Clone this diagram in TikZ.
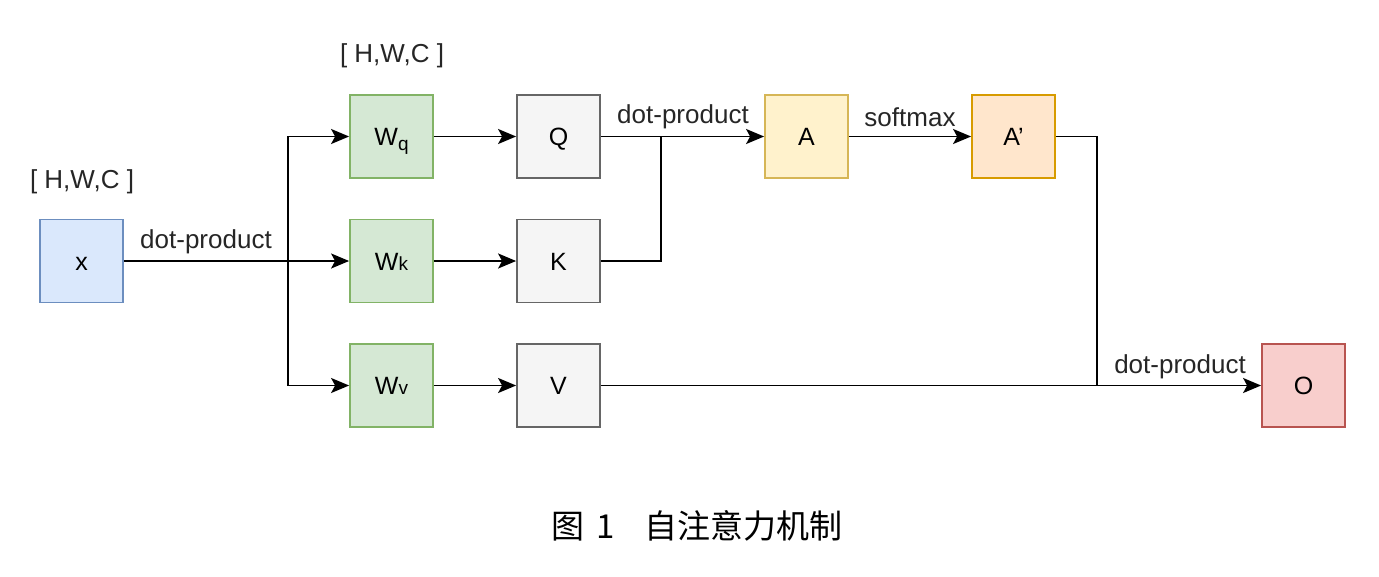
\documentclass[tikz,border=0pt]{standalone}
\usepackage{fontspec}
\setmainfont{Liberation Sans}
\newfontfamily\cjk{Noto Sans CJK SC}
\usetikzlibrary{arrows.meta}
\definecolor{bxf}{HTML}{DAE8FC}\definecolor{bxd}{HTML}{6C8EBF}
\definecolor{gnf}{HTML}{D5E8D4}\definecolor{gnd}{HTML}{82B366}
\definecolor{gyf}{HTML}{F5F5F5}\definecolor{gyd}{HTML}{666666}
\definecolor{ylf}{HTML}{FFF2CC}\definecolor{yld}{HTML}{D6B656}
\definecolor{orf}{HTML}{FFE6CC}\definecolor{ord}{HTML}{D79B00}
\definecolor{rdf}{HTML}{F8CECC}\definecolor{rdd}{HTML}{B85450}
\begin{document}
\begin{tikzpicture}[x=1pt,y=-1pt,
  box/.style={draw, line width=1.8pt, minimum width=83pt, minimum height=83pt, inner sep=0pt, text height=18pt, text depth=0pt, font=\fontsize{25}{29}\selectfont},
  bl/.style={box, fill=bxf, draw=bxd},
  gn/.style={box, fill=gnf, draw=gnd},
  gy/.style={box, fill=gyf, draw=gyd},
  yl/.style={box, fill=ylf, draw=yld},
  orr/.style={box, fill=orf, draw=ord},
  rd/.style={box, fill=rdf, draw=rdd},
  wire/.style={line width=1.8pt},
  arr/.style={wire, -{Stealth[length=18pt,width=15pt,inset=4pt]}},
  lbl/.style={font=\fontsize{26}{30}\selectfont, text=black!85, inner sep=0pt}]
\useasboundingbox (0,0) rectangle (1379,576);
\node[bl] (x) at (81.5,261) {x};
\node[gn] (Wq) at (391.5,136.5) {W{\fontsize{19}{22}\selectfont\raisebox{-5pt}{q}}};
\node[gn] (Wk) at (391.5,261) {W{\fontsize{19}{22}\selectfont k}};
\node[gn] (Wv) at (391.5,385.5) {W{\fontsize{19}{22}\selectfont v}};
\node[gy] (Q) at (558.5,136.5) {Q};
\node[gy] (K) at (558.5,261) {K};
\node[gy] (V) at (558.5,385.5) {V};
\node[yl] (A) at (806.5,136.5) {A};
\node[orr] (Ap) at (1013.5,136.5) {A'};
\node[rd] (O) at (1303.5,385.5) {O};
\coordinate (br) at (288,261);
\coordinate (m) at (661,136.5);
\coordinate (j) at (1097,385.5);
\node[lbl] (s1) at (82,182) {[ H,W,C ]};
\node[lbl] (s2) at (392,56) {[ H,W,C ]};
\node[lbl] (d1) at (206,242) {dot-product};
\node[lbl] (d2) at (683,117) {dot-product};
\node[lbl] (sm) at (910,117) {softmax};
\node[lbl] (d3) at (1180,367) {dot-product};
\node[font=\cjk\fontsize{33}{37}\selectfont, inner sep=0pt] (cap) at (697,526) {图\hspace{12pt}1\hspace{30pt}自注意力机制};
\draw[arr] (x) -- (Wk);
\draw[arr] (br) |- (Wq);
\draw[arr] (br) |- (Wv);
\draw[arr] (Wq) -- (Q);
\draw[arr] (Wk) -- (K);
\draw[arr] (Wv) -- (V);
\draw[arr] (Q) -- (A);
\draw[wire] (K) -| (m);
\draw[arr] (A) -- (Ap);
\draw[wire] (Ap) -| (j);
\draw[arr] (V) -- (O);
\end{tikzpicture}
\end{document}
